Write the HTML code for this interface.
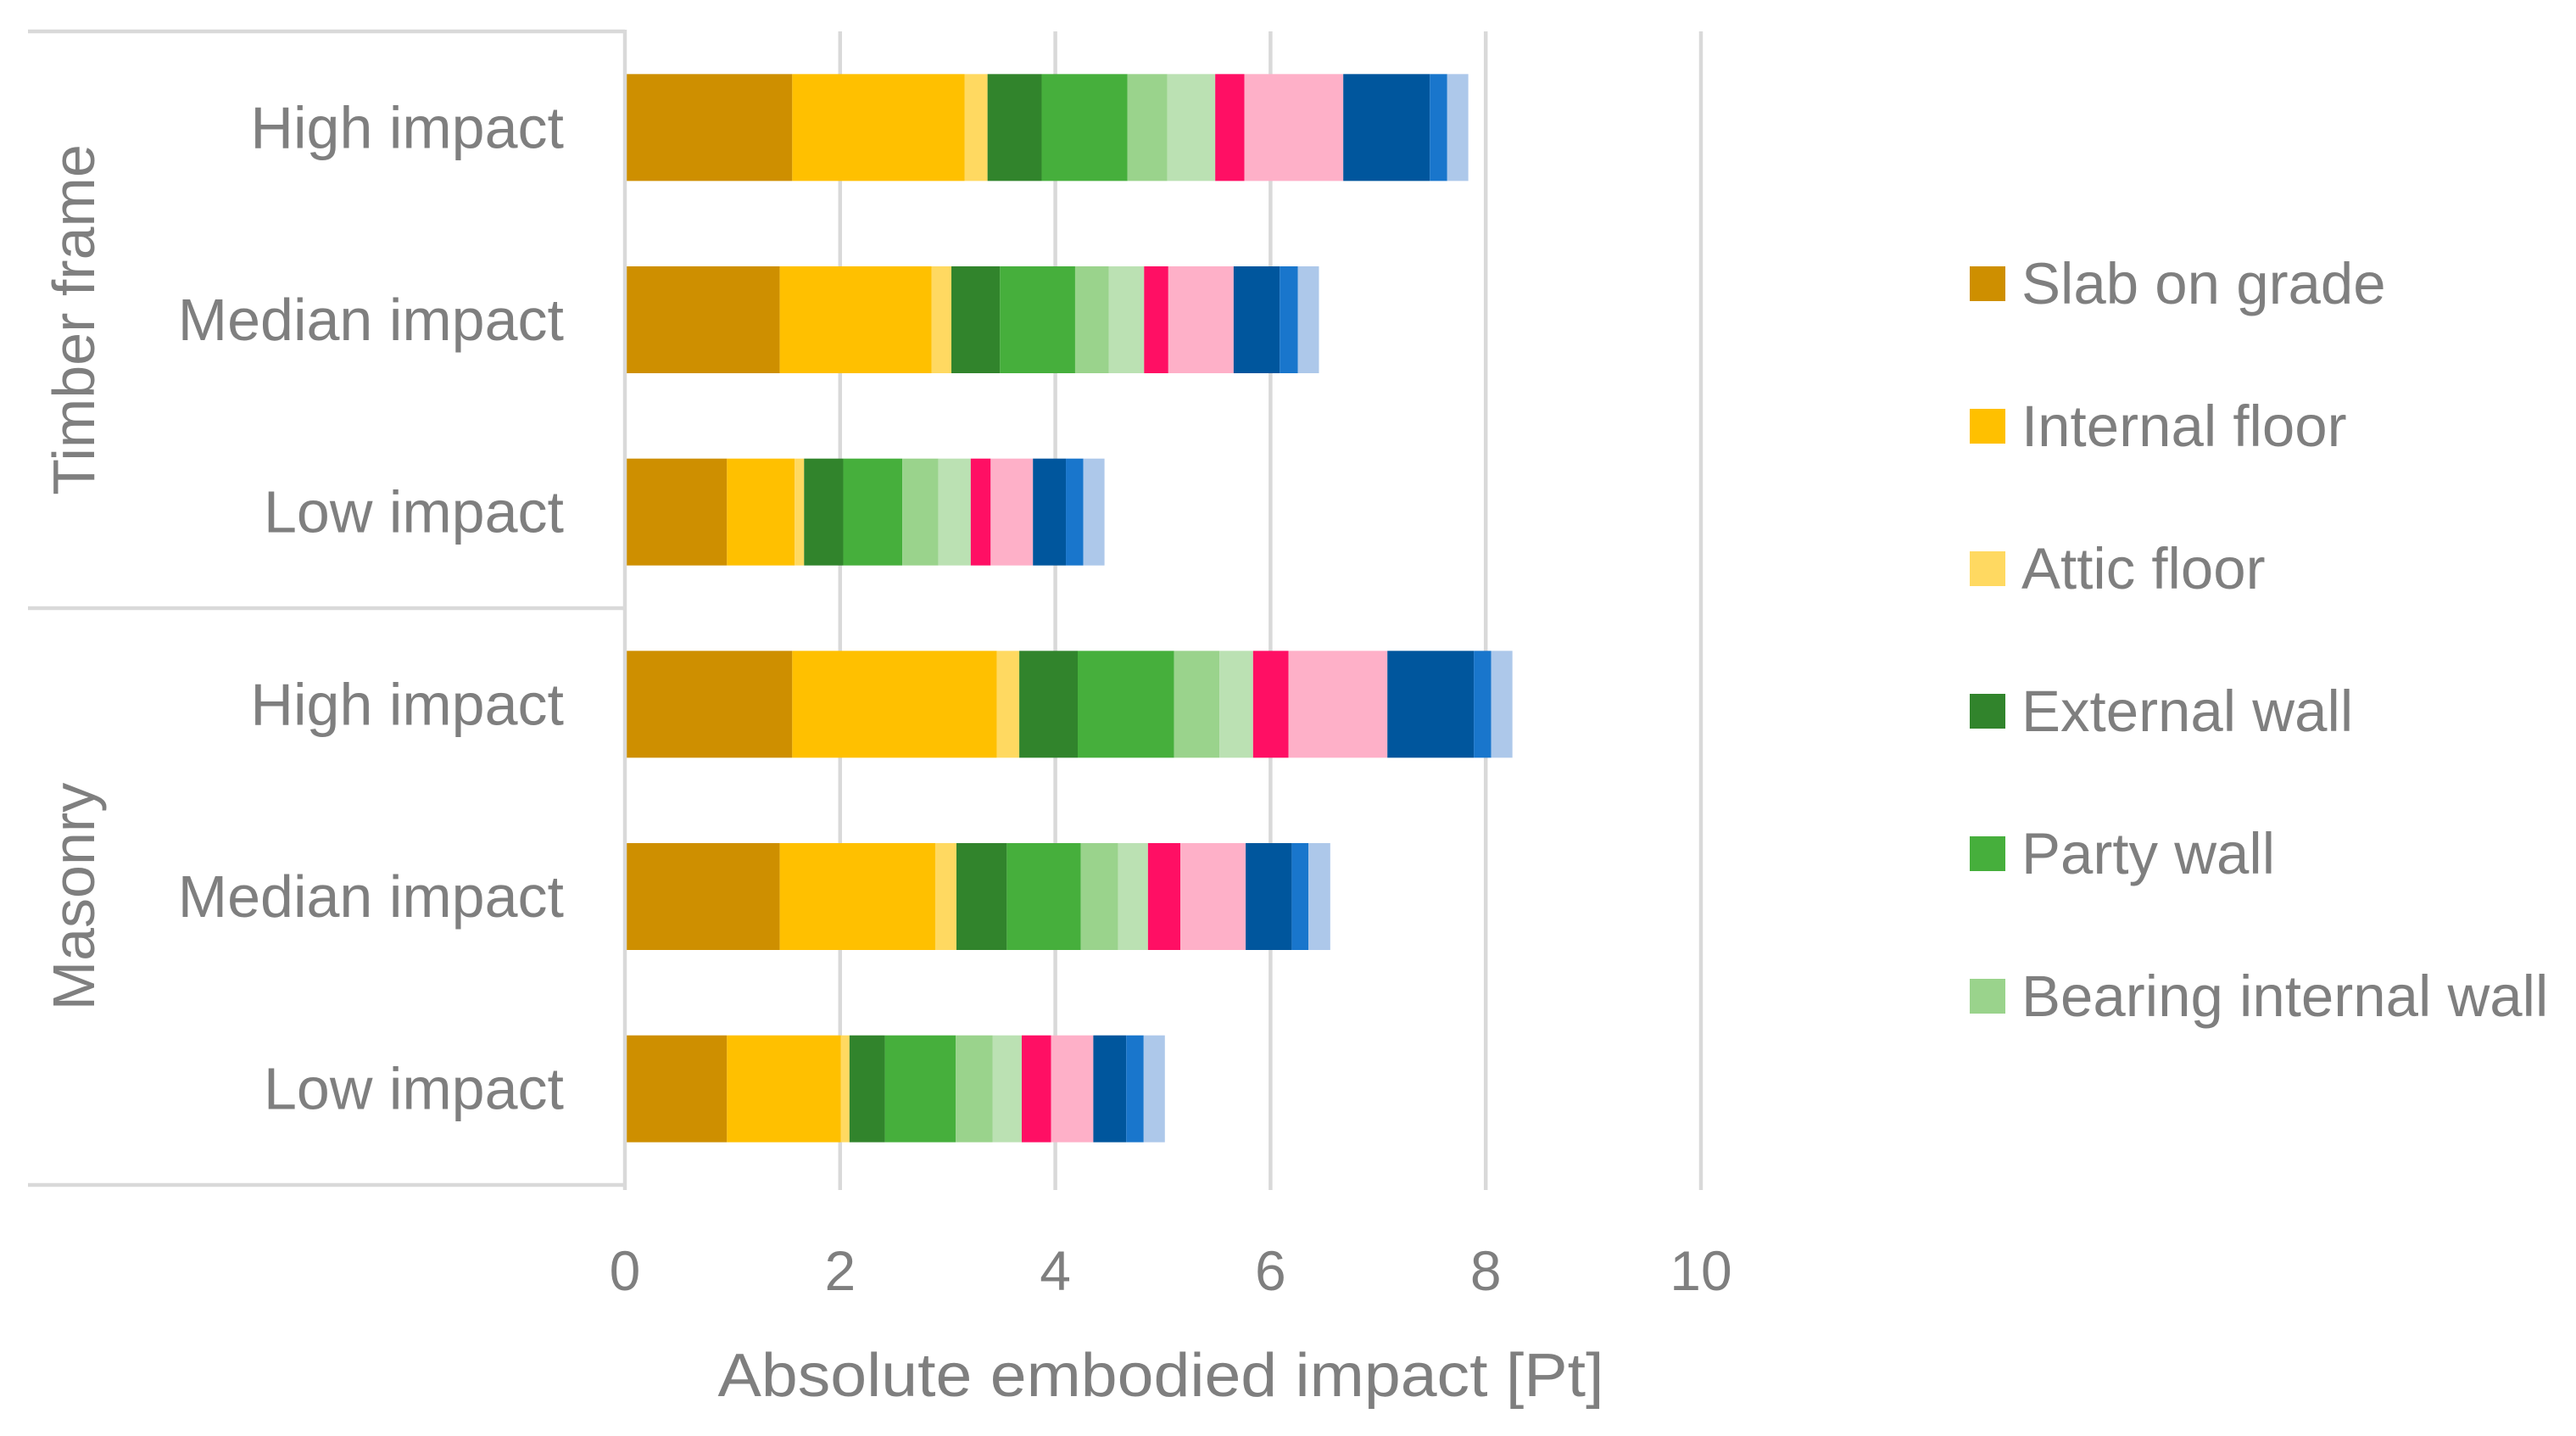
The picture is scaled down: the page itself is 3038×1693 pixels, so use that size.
<!DOCTYPE html>
<html><head><meta charset="utf-8"><style>
html,body{margin:0;padding:0;background:#fff;}
svg{display:block;font-family:"Liberation Sans",sans-serif;}
</style></head><body>
<svg id="chart" width="3038" height="1693" viewBox="0 0 3038 1693">
<g id="grid"></g>
<g id="bars"></g>
<g id="axes"></g>
<g id="legend"></g>
</svg>
<script>
const categories = ["High impact","Median impact","Low impact","High impact","Median impact","Low impact"];
const groups = ["Timber frame","Masonry"];
const seriesNames = ["Slab on grade","Internal floor","Attic floor","External wall","Party wall","Bearing internal wall","Non-bearing internal wall","Windows","Roof","Heating","Ventilation","Electrical"];
const seriesColors = ["#CE8F00","#FFC000","#FFD961","#31842C","#46AF3C","#9AD38C","#BBE1B3","#FF0F64","#FEB0C8","#00569D","#1976CC","#ADC8EA"];
const legendNames = ["Slab on grade","Internal floor","Attic floor","External wall","Party wall","Bearing internal wall"];
const timberHigh   = [1.555,1.601,0.214,0.503,0.798,0.369,0.446,0.271,0.919,0.804,0.162,0.196];
const timberMedian = [1.439,1.410,0.185,0.451,0.699,0.312,0.329,0.225,0.607,0.428,0.168,0.197];
const timberLow    = [0.948,0.630,0.087,0.364,0.549,0.335,0.301,0.185,0.393,0.306,0.162,0.197];
const masonryHigh  = [1.555,1.902,0.208,0.543,0.896,0.422,0.312,0.329,0.919,0.803,0.162,0.197];
const masonryMedian= [1.439,1.445,0.197,0.468,0.688,0.347,0.277,0.301,0.607,0.428,0.156,0.202];
const masonryLow   = [0.948,1.058,0.081,0.329,0.659,0.341,0.272,0.272,0.393,0.306,0.162,0.197];
const rows = [timberHigh,timberMedian,timberLow,masonryHigh,masonryMedian,masonryLow];
const xTicks = [0,2,4,6,8,10];

const NS="http://www.w3.org/2000/svg";
const X0=737, PXU=126.9, TOP=37, BOT=1397, BAND=(BOT-TOP)/6, BARH=126;
const xs=v=>X0+v*PXU;
const yBand=i=>TOP+i*BAND;
function mk(tag,attrs,parent){const e=document.createElementNS(NS,tag);for(const k in attrs)e.setAttribute(k,attrs[k]);parent.appendChild(e);return e;}
const grid=document.getElementById('grid'),bars=document.getElementById('bars'),axes=document.getElementById('axes'),legend=document.getElementById('legend');
const GREY="#d9d9d9", TXT="#7f7f7f";

xTicks.forEach(t=>{
  if(t===0) return;
  const l=mk('line',{x1:xs(t),x2:xs(t),y1:TOP,y2:BOT+6,stroke:GREY,'stroke-width':4.5},grid);
  
  
});
xTicks.forEach(t=>{
  const tx=mk('text',{x:xs(t),y:1521,'text-anchor':'middle','font-size':66,fill:TXT},axes);
  tx.textContent=t;
  
  
});

rows.forEach((vals,i)=>{
  let cum=0;
  const yc=yBand(i)+BAND/2;
  vals.forEach((v,s)=>{
    const r=mk('rect',{x:xs(cum),y:yc-BARH/2,width:v*PXU,height:BARH,fill:seriesColors[s]},bars);
    
    
    cum+=v;
  });
  const lb=mk('text',{x:665,y:yc+24,'text-anchor':'end','font-size':70,fill:TXT},axes);
  lb.textContent=categories[i];
  
  
});

const va=mk('line',{x1:X0,x2:X0,y1:TOP-2,y2:BOT+6,stroke:GREY,'stroke-width':4.5},axes);


[TOP,yBand(3),BOT].forEach((y,k)=>{
  const h=mk('line',{x1:33,x2:X0,y1:y,y2:y,stroke:GREY,'stroke-width':4.5},axes);
  
  
});
groups.forEach((g,k)=>{
  const cy=yBand(k*3)+BAND*1.5;
  const t=mk('text',{x:0,y:0,'text-anchor':'middle','font-size':70,fill:TXT,transform:'translate(111,'+cy+') rotate(-90)'},axes);
  t.textContent=g;
  
  
});
const title=mk('text',{x:1369,y:1646,'text-anchor':'middle','font-size':72,fill:TXT,textLength:1045,lengthAdjust:'spacingAndGlyphs'},axes);
title.textContent="Absolute embodied impact [Pt]";



legendNames.forEach((n,k)=>{
  const cy=334+k*168;
  const sq=mk('rect',{x:2323,y:cy-20,width:42,height:41,fill:seriesColors[k]},legend);
  
  
  const t=mk('text',{x:2384,y:cy+24,'font-size':69,fill:TXT},legend);
  t.textContent=n;
  
  
});
</script>
</body></html>
